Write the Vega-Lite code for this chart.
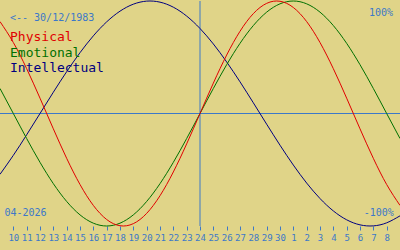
{
  "$schema": "https://vega.github.io/schema/vega-lite/v6.json",
  "width": 400,
  "height": 225,
  "autosize": {"type": "none"},
  "padding": {"left": 0, "top": 1, "right": 0, "bottom": 24},
  "background": "#e0d488",
  "config": {"view": {"stroke": null}, "font": "DejaVu Sans Mono"},
  "datasets": {
    "bio": [
      {"date": "2026-04-09", "P": 0.8170, "E": 0.2225, "I": -0.5406},
      {"date": "2026-04-10", "P": 0.6311, "E": 0.0, "I": -0.3717},
      {"date": "2026-04-11", "P": 0.3984, "E": -0.2225, "I": -0.1893},
      {"date": "2026-04-12", "P": 0.1362, "E": -0.4339, "I": 0.0},
      {"date": "2026-04-13", "P": -0.1362, "E": -0.6235, "I": 0.1893},
      {"date": "2026-04-14", "P": -0.3984, "E": -0.7818, "I": 0.3717},
      {"date": "2026-04-15", "P": -0.6311, "E": -0.9010, "I": 0.5406},
      {"date": "2026-04-16", "P": -0.8170, "E": -0.9749, "I": 0.6901},
      {"date": "2026-04-17", "P": -0.9423, "E": -1.0, "I": 0.8146},
      {"date": "2026-04-18", "P": -0.9977, "E": -0.9749, "I": 0.9096},
      {"date": "2026-04-19", "P": -0.9791, "E": -0.9010, "I": 0.9718},
      {"date": "2026-04-20", "P": -0.8879, "E": -0.7818, "I": 0.9989},
      {"date": "2026-04-21", "P": -0.7308, "E": -0.6235, "I": 0.9898},
      {"date": "2026-04-22", "P": -0.5196, "E": -0.4339, "I": 0.9450},
      {"date": "2026-04-23", "P": -0.2698, "E": -0.2225, "I": 0.8660},
      {"date": "2026-04-24", "P": 0.0, "E": 0.0, "I": 0.7557},
      {"date": "2026-04-25", "P": 0.2698, "E": 0.2225, "I": 0.6182},
      {"date": "2026-04-26", "P": 0.5196, "E": 0.4339, "I": 0.4582},
      {"date": "2026-04-27", "P": 0.7308, "E": 0.6235, "I": 0.2817},
      {"date": "2026-04-28", "P": 0.8879, "E": 0.7818, "I": 0.0951},
      {"date": "2026-04-29", "P": 0.9791, "E": 0.9010, "I": -0.0951},
      {"date": "2026-04-30", "P": 0.9977, "E": 0.9749, "I": -0.2817},
      {"date": "2026-05-01", "P": 0.9423, "E": 1.0, "I": -0.4582},
      {"date": "2026-05-02", "P": 0.8170, "E": 0.9749, "I": -0.6182},
      {"date": "2026-05-03", "P": 0.6311, "E": 0.9010, "I": -0.7557},
      {"date": "2026-05-04", "P": 0.3984, "E": 0.7818, "I": -0.8660},
      {"date": "2026-05-05", "P": 0.1362, "E": 0.6235, "I": -0.9450},
      {"date": "2026-05-06", "P": -0.1362, "E": 0.4339, "I": -0.9898},
      {"date": "2026-05-07", "P": -0.3984, "E": 0.2225, "I": -0.9989},
      {"date": "2026-05-08", "P": -0.6311, "E": 0.0, "I": -0.9718},
      {"date": "2026-05-09", "P": -0.8170, "E": -0.2225, "I": -0.9096}
    ]
  },
  "layer": [
    {
      "data": {"values": [{"date": "2026-04-24"}]},
      "mark": {"type": "rule", "color": "#3c78c8", "strokeWidth": 1},
      "encoding": {
        "x": {
          "field": "date", "type": "temporal",
          "scale": {"type": "utc", "domain": ["2026-04-09", "2026-05-09"]},
          "axis": {
            "title": null, "format": "%-d", "domain": false, "grid": false,
            "tickCount": 40,
            "values": ["2026-04-10","2026-04-11","2026-04-12","2026-04-13","2026-04-14","2026-04-15","2026-04-16","2026-04-17","2026-04-18","2026-04-19","2026-04-20","2026-04-21","2026-04-22","2026-04-23","2026-04-24","2026-04-25","2026-04-26","2026-04-27","2026-04-28","2026-04-29","2026-04-30","2026-05-01","2026-05-02","2026-05-03","2026-05-04","2026-05-05","2026-05-06","2026-05-07","2026-05-08"],
            "tickColor": "#3c78c8", "tickSize": 4, "tickWidth": 1,
            "labelColor": "#3c78c8", "labelFont": "DejaVu Sans Mono", "labelFontSize": 9,
            "labelPadding": 3, "labelOverlap": false, "labelFlush": false
          }
        }
      }
    },
    {
      "data": {"values": [{"v": 0}]},
      "mark": {"type": "rule", "color": "#3c78c8", "strokeWidth": 1},
      "encoding": {
        "y": {"field": "v", "type": "quantitative", "scale": {"domain": [-1, 1], "nice": false, "zero": false}, "axis": null}
      }
    },
    {
      "data": {"name": "bio"},
      "mark": {"type": "line", "color": "#000080", "strokeWidth": 1, "interpolate": "natural"},
      "encoding": {
        "x": {"field": "date", "type": "temporal"},
        "y": {"field": "I", "type": "quantitative"}
      }
    },
    {
      "data": {"name": "bio"},
      "mark": {"type": "line", "color": "#007000", "strokeWidth": 1, "interpolate": "natural"},
      "encoding": {
        "x": {"field": "date", "type": "temporal"},
        "y": {"field": "E", "type": "quantitative"}
      }
    },
    {
      "data": {"name": "bio"},
      "mark": {"type": "line", "color": "#e00000", "strokeWidth": 1, "interpolate": "natural"},
      "encoding": {
        "x": {"field": "date", "type": "temporal"},
        "y": {"field": "P", "type": "quantitative"}
      }
    },
    {
      "data": {"values": [
        {"label": "Physical", "date": "2026-04-09T18:00:00Z", "v": 0.644},
        {"label": "Emotional", "date": "2026-04-09T18:00:00Z", "v": 0.502},
        {"label": "Intellectual", "date": "2026-04-09T18:00:00Z", "v": 0.369}
      ]},
      "mark": {"type": "text", "align": "left", "baseline": "alphabetic", "font": "DejaVu Sans Mono", "fontSize": 13},
      "encoding": {
        "x": {"field": "date", "type": "temporal"},
        "y": {"field": "v", "type": "quantitative"},
        "text": {"field": "label"},
        "color": {"field": "label", "type": "nominal", "legend": null,
          "scale": {"domain": ["Physical", "Emotional", "Intellectual"], "range": ["#e00000", "#007000", "#000080"]}}
      }
    },
    {
      "data": {"values": [
        {"label": "<-- 30/12/1983", "date": "2026-04-09T18:00:00Z", "v": 0.822},
        {"label": "04-2026", "date": "2026-04-09T08:00:00Z", "v": -0.911}
      ]},
      "mark": {"type": "text", "align": "left", "baseline": "alphabetic", "font": "DejaVu Sans Mono", "fontSize": 10, "color": "#3c78c8"},
      "encoding": {
        "x": {"field": "date", "type": "temporal"},
        "y": {"field": "v", "type": "quantitative"},
        "text": {"field": "label"}
      }
    },
    {
      "data": {"values": [
        {"label": "100%", "date": "2026-05-08T11:30:00Z", "v": 0.867},
        {"label": "-100%", "date": "2026-05-08T13:00:00Z", "v": -0.911}
      ]},
      "mark": {"type": "text", "align": "right", "baseline": "alphabetic", "font": "DejaVu Sans Mono", "fontSize": 10, "color": "#3c78c8"},
      "encoding": {
        "x": {"field": "date", "type": "temporal"},
        "y": {"field": "v", "type": "quantitative"},
        "text": {"field": "label"}
      }
    }
  ]
}
